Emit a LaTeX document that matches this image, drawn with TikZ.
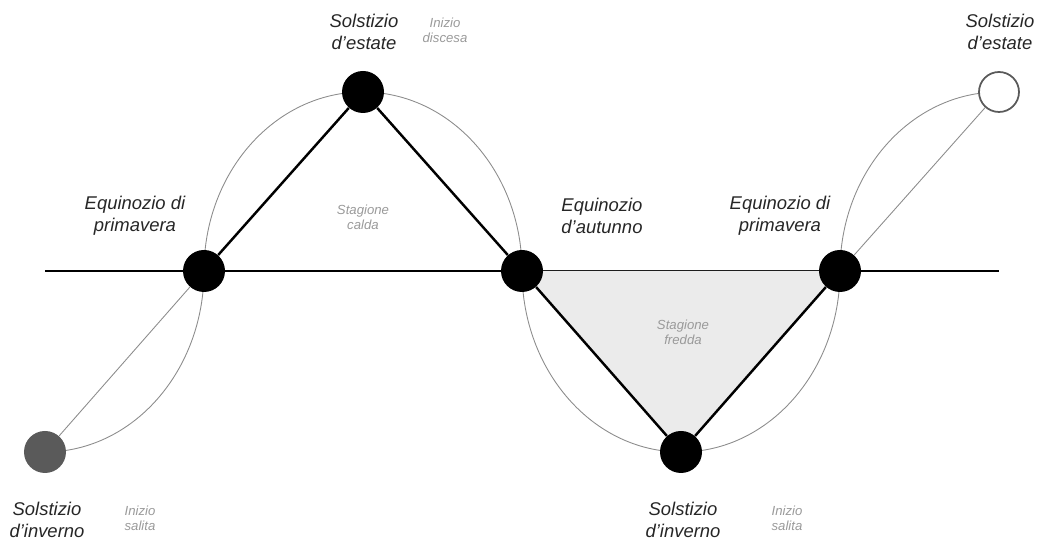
\documentclass[tikz,border=0pt]{standalone}
\usepackage{fontspec}
\setmainfont{Liberation Sans}
\usetikzlibrary{backgrounds}
\definecolor{coldgray}{HTML}{EBEBEB}
\definecolor{hintgray}{HTML}{9A9A9A}
\definecolor{wintergray}{HTML}{5A5A5A}

\begin{document}
\begin{tikzpicture}[x=0.2mm,y=0.2mm,
		dot/.style={circle,fill=black,minimum size=8.4mm,inner sep=0pt},
		lbl/.style={align=center,text=black!85,font=\fontsize{10.5}{12.5}\selectfont\itshape},
		hint/.style={align=center,text=hintgray,font=\fontsize{7.5}{8.5}\selectfont\itshape},
		wave/.style={line width=0.5pt,draw=black!45},
		orbit/.style={line width=1.4pt}]
		\useasboundingbox (0,0) rectangle (1047,544);
		% sun at solstices and equinoxes
		\node[dot,fill=wintergray] (winA) at (45,92) {};
		\node[dot] (eqA) at (204,273) {};
		\node[dot] (sumA) at (363,452) {};
		\node[dot] (eqB) at (522,273) {};
		\node[dot] (winB) at (681,92) {};
		\node[dot] (eqC) at (840,273) {};
		\node[dot,fill=white,draw=wintergray,line width=1pt,minimum size=8mm] (sumB) at (999,452) {};
		\begin{scope}[on background layer]
			% horizon line
			\coordinate (horL) at (45,273);
			\coordinate (horR) at (999,273);
			\draw[orbit] (horL) -- (horR);
			% cold season
			\fill[coldgray] (eqB.center) -- (winB.center) -- (eqC.center) -- cycle;
			% yearly curve of the sun
			\draw[wave] (winA.center) arc[start angle=270,end angle=360,x radius=3.18cm,y radius=3.62cm]
				arc[start angle=180,end angle=0,x radius=3.18cm,y radius=3.58cm]
				arc[start angle=180,end angle=360,x radius=3.18cm,y radius=3.62cm]
				arc[start angle=180,end angle=90,x radius=3.18cm,y radius=3.58cm];
		\end{scope}
		\draw[wave] (winA) -- (eqA);
		\draw[wave] (eqC) -- (sumB);
		\draw[orbit] (eqA) -- (sumA) -- (eqB) -- (winB) -- (eqC);
		% labels
		\node[lbl] (sumAlbl) at (364,512) {Solstizio\\d'estate};
		\node[hint] (sumAhint) at (445,514) {Inizio\\discesa};
		\node[lbl] (eqAlbl) at (135,328) {Equinozio di\\primavera};
		\node[hint] (warm) at (363,327) {Stagione\\calda};
		\node[lbl] (eqBlbl) at (602,328) {Equinozio\\d'autunno};
		\node[lbl] (eqClbl) at (780,328) {Equinozio di\\primavera};
		\node[lbl] (sumBlbl) at (1000,512) {Solstizio\\d'estate};
		\node[hint] (cold) at (683,212) {Stagione\\fredda};
		\node[lbl] (winAlbl) at (47,24) {Solstizio\\d'inverno};
		\node[hint] (winAhint) at (140,26) {Inizio\\salita};
		\node[lbl] (winBlbl) at (683,24) {Solstizio\\d'inverno};
		\node[hint] (winBhint) at (787,26) {Inizio\\salita};
	\end{tikzpicture}
\end{document}
